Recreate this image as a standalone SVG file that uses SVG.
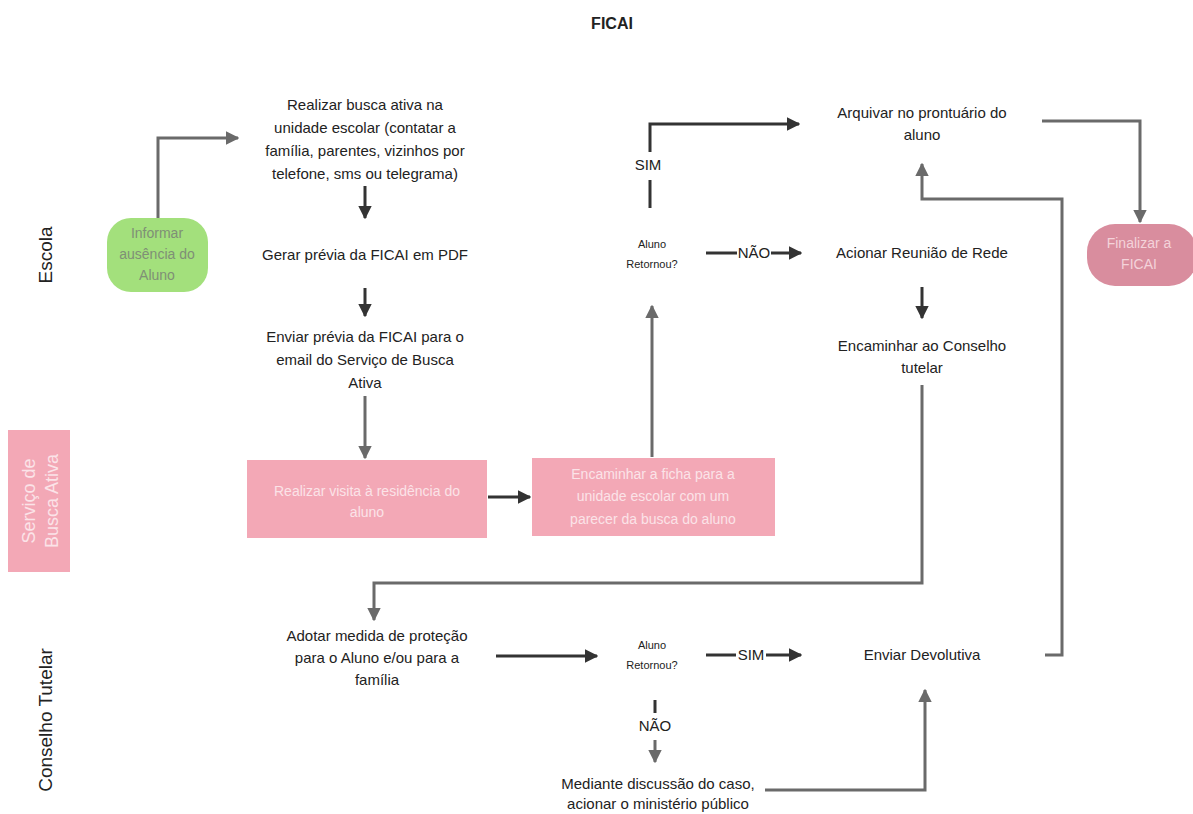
<svg xmlns="http://www.w3.org/2000/svg" width="1193" height="814" viewBox="0 0 1193 814">
<style>
.t{font-family:"Liberation Sans",Arial,sans-serif;font-size:15px;fill:#222;text-anchor:middle}
.s{font-family:"Liberation Sans",Arial,sans-serif;font-size:11px;fill:#222;text-anchor:middle}
.lane{font-family:"Liberation Sans",Arial,sans-serif;font-size:19px;fill:#222;text-anchor:middle}
.w{font-family:"Liberation Sans",Arial,sans-serif;font-size:14px;fill:#fbe3e8;text-anchor:middle}
.k{fill:none;stroke:#333;stroke-width:3}
.g{fill:none;stroke:#6a6a6a;stroke-width:3}
</style>
<defs>
<marker id="ak" viewBox="0 0 10 10" refX="9" refY="5" markerWidth="4.5" markerHeight="4.5" orient="auto" markerUnits="strokeWidth"><path d="M0,0L10,5L0,10z" fill="#333"/></marker>
<marker id="ag" viewBox="0 0 10 10" refX="9" refY="5" markerWidth="4.5" markerHeight="4.5" orient="auto" markerUnits="strokeWidth"><path d="M0,0L10,5L0,10z" fill="#6a6a6a"/></marker>
</defs>
<rect width="1193" height="814" fill="#fff"/>
<text x="612" y="29" class="t" style="font-weight:bold;font-size:16px">FICAI</text>

<g id="lanes">
<text class="lane" transform="translate(52,255) rotate(-90)">Escola</text>
<rect x="8" y="430" width="62" height="142" fill="#f3a8b6"/>
<text class="lane" style="fill:#fbe3e8;font-size:18px" transform="translate(35,501) rotate(-90)">Serviço de</text>
<text class="lane" style="fill:#fbe3e8;font-size:18px" transform="translate(58,501) rotate(-90)">Busca Ativa</text>
<text class="lane" transform="translate(52,720) rotate(-90)">Conselho Tutelar</text>
</g>

<g id="connectors">
<path class="g" d="M158,218V138H238" marker-end="url(#ag)"/>
<path class="k" d="M365,186V218" marker-end="url(#ak)"/>
<path class="k" d="M365,288V316" marker-end="url(#ak)"/>
<path class="g" d="M365,396V458" marker-end="url(#ag)"/>
<path class="k" d="M488,497H530" marker-end="url(#ak)"/>
<path class="g" d="M652,457V306" marker-end="url(#ag)"/>
<path class="k" d="M650,208V180"/>
<path class="k" d="M650,152V124H799" marker-end="url(#ak)"/>
<path class="k" d="M706,253H737"/>
<path class="k" d="M771,253H801" marker-end="url(#ak)"/>
<path class="k" d="M922,287V318" marker-end="url(#ak)"/>
<path class="g" d="M922,385V583H374V620" marker-end="url(#ag)"/>
<path class="k" d="M496,656H597" marker-end="url(#ak)"/>
<path class="k" d="M706,655H736"/>
<path class="k" d="M766,655H801" marker-end="url(#ak)"/>
<path class="g" d="M1045,655H1062V199H922V164" marker-end="url(#ag)"/>
<path class="g" d="M1042,121H1140V222" marker-end="url(#ag)"/>
<path class="k" d="M655,700V713"/>
<path class="g" d="M655,740V762" marker-end="url(#ag)"/>
<path class="g" d="M765,790H925V690" marker-end="url(#ag)"/>
</g>

<g id="n-informar">
<rect x="107" y="218" width="101" height="74" rx="24" fill="#a3e07c"/>
<text class="t" style="fill:#7f8f76;font-size:14px"><tspan x="157" y="238">Informar</tspan><tspan x="157" y="259">ausência do</tspan><tspan x="157" y="280">Aluno</tspan></text>
</g>
<g id="n-realizar">
<text class="t"><tspan x="365" y="110">Realizar busca ativa na</tspan><tspan x="365" y="133">unidade escolar (contatar a</tspan><tspan x="365" y="156">família, parentes, vizinhos por</tspan><tspan x="365" y="179">telefone, sms ou telegrama)</tspan></text>
</g>
<g id="n-gerar"><text class="t" x="365" y="260">Gerar prévia da FICAI em PDF</text></g>
<g id="n-enviar">
<text class="t"><tspan x="365" y="342">Enviar prévia da FICAI para o</tspan><tspan x="365" y="365">email do Serviço de Busca</tspan><tspan x="365" y="388">Ativa</tspan></text>
</g>
<g id="n-visita">
<rect x="247" y="460" width="240" height="78" fill="#f3a8b6"/>
<text class="w"><tspan x="367" y="496">Realizar visita à residência do</tspan><tspan x="367" y="517">aluno</tspan></text>
</g>
<g id="n-encaminhar-ficha">
<rect x="532" y="458" width="243" height="78" fill="#f3a8b6"/>
<text class="w"><tspan x="653" y="479">Encaminhar a ficha para a</tspan><tspan x="653" y="501">unidade escolar com um</tspan><tspan x="653" y="524">parecer da busca do aluno</tspan></text>
</g>
<g id="n-retornou1">
<text class="s"><tspan x="652" y="248">Aluno</tspan><tspan x="652" y="268">Retornou?</tspan></text>
</g>
<text class="t" x="648" y="170">SIM</text>
<text class="t" x="754" y="258">NÃO</text>
<g id="n-arquivar">
<text class="t"><tspan x="922" y="118">Arquivar no prontuário do</tspan><tspan x="922" y="140">aluno</tspan></text>
</g>
<g id="n-reuniao"><text class="t" x="922" y="258">Acionar Reunião de Rede</text></g>
<g id="n-encaminhar-ct">
<text class="t"><tspan x="922" y="351">Encaminhar ao Conselho</tspan><tspan x="922" y="373">tutelar</tspan></text>
</g>
<g id="n-finalizar">
<rect x="1087" y="224" width="110" height="62" rx="28" fill="#d98d9e"/>
<text class="w" style="fill:#f4d3da"><tspan x="1139" y="248">Finalizar a</tspan><tspan x="1139" y="269">FICAI</tspan></text>
</g>
<g id="n-adotar">
<text class="t"><tspan x="377" y="641">Adotar medida de proteção</tspan><tspan x="377" y="663">para o Aluno e/ou para a</tspan><tspan x="377" y="685">família</tspan></text>
</g>
<g id="n-retornou2">
<text class="s"><tspan x="652" y="649">Aluno</tspan><tspan x="652" y="669">Retornou?</tspan></text>
</g>
<text class="t" x="751" y="660">SIM</text>
<text class="t" x="655" y="731">NÃO</text>
<g id="n-devolutiva"><text class="t" x="922" y="660">Enviar Devolutiva</text></g>
<g id="n-mediante">
<text class="t"><tspan x="658" y="789">Mediante discussão do caso,</tspan><tspan x="658" y="809">acionar o ministério público</tspan></text>
</g>
</svg>
